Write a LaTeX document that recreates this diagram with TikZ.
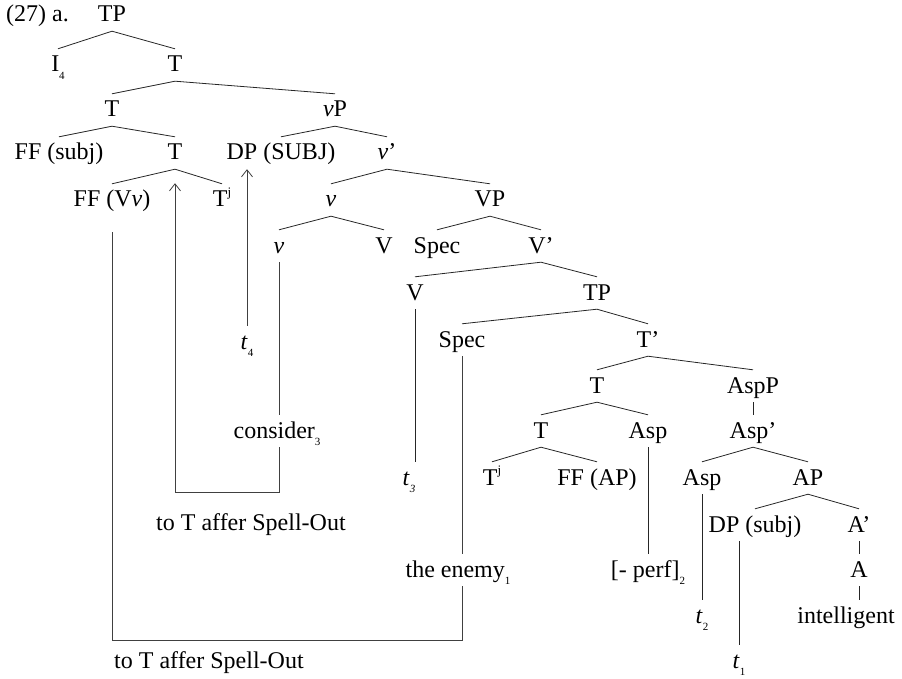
\documentclass[tikz,border=0pt]{standalone}
\usepackage{fontspec}
\setmainfont{Liberation Serif}
\usetikzlibrary{arrows.meta,calc}
% index and feature marks
\newcommand\lowsub[1]{\raisebox{-0.3em}{\fontsize{11}{11}\selectfont #1}}
\newcommand\highsup[1]{\raisebox{0.42em}{\fontsize{13}{13}\selectfont #1}}

\begin{document}
\begin{tikzpicture}[x=1pt,y=-1pt,
  lab/.style={anchor=base, inner xsep=1pt, inner ysep=6pt, text height=17pt,
              text depth=3pt, font=\fontsize{24}{28}\selectfont},
  branch/.style={draw=black!85, line width=0.8pt},
  move/.style={draw=black!75, line width=0.8pt},
  tip/.style={-{Straight Barb[length=7pt,width=11pt,line width=0.8pt]}}
]
\useasboundingbox (0,0) rectangle (902,679);

% labels, row by row
\node[lab, anchor=base west] (num) at (5,22) {(27) a.};
\node[lab] (tp0) at (112,22) {TP};
\node[lab] (i4) at (58,72) {I\lowsub{4}};
\node[lab] (t1) at (175,72) {T};
\node[lab] (t2) at (112,117) {T};
\node[lab] (vp) at (335,117) {\textit{v}P};
\node[lab] (ffsubj) at (59,160) {FF (subj)};
\node[lab] (t3) at (175,160) {T};
\node[lab] (dpsubj) at (281,160) {DP (SUBJ)};
\node[lab] (vbar) at (387,160) {\textit{v}'};
\node[lab] (ffvv) at (112,207) {FF (V\textit{v})};
\node[lab] (tj1) at (222,207) {T\highsup{j}};
\node[lab] (v1) at (331,207) {\textit{v}};
\node[lab] (vpp) at (490,207) {VP};
\node[lab] (v2) at (279,253) {\textit{v}};
\node[lab] (vv) at (384,253) {V};
\node[lab] (spec1) at (437,253) {Spec};
\node[lab] (vbar2) at (541,253) {V'};
\node[lab] (v3) at (415,300) {V};
\node[lab] (tp1) at (597,300) {TP};
\node[lab] (spec2) at (462,347) {Spec};
\node[lab] (tbar) at (648,347) {T'};
\node[lab] (tr4) at (247,349) {\textit{t}\lowsub{4}};
\node[lab] (t4) at (597,393) {T};
\node[lab] (aspp) at (753,393) {AspP};
\node[lab] (t5) at (541,438) {T};
\node[lab] (asp1) at (648,438) {Asp};
\node[lab] (aspbar) at (753,438) {Asp'};
\node[lab] (consider) at (277,438) {consider\lowsub{3}};
\node[lab] (tr3) at (409,485) {\textit{t}\lowsub{\textit{3}}};
\node[lab] (tj2) at (492,485) {T\highsup{j}};
\node[lab] (ffap) at (597,485) {FF (AP)};
\node[lab] (asp2) at (702,485) {Asp};
\node[lab] (ap) at (808,485) {AP};
\node[lab] (dpsubj2) at (755,532) {DP (subj)};
\node[lab] (abar) at (859,532) {A'};
\node[lab] (enemy) at (458,577) {the enemy\lowsub{1}};
\node[lab] (perf) at (648,577) {[- perf]\lowsub{2}};
\node[lab] (a) at (859,577) {A};
\node[lab] (tr2) at (702,623) {\textit{t}\lowsub{2}};
\node[lab] (intel) at (846,623) {intelligent};
\node[lab] (tr1) at (739,668) {\textit{t}\lowsub{1}};
\node[lab, anchor=base west] (spell1) at (155,530) {to T affer Spell-Out};
\node[lab, anchor=base west] (spell2) at (113,668) {to T affer Spell-Out};

% binary branching
\foreach \p/\c in {tp0/i4, tp0/t1, t1/t2, t1/vp, t2/ffsubj, t2/t3, vp/dpsubj,
    vp/vbar, t3/ffvv, t3/tj1, vbar/v1, vbar/vpp, v1/v2, v1/vv, vpp/spec1,
    vpp/vbar2, vbar2/v3, vbar2/tp1, tp1/spec2, tp1/tbar, tbar/t4, tbar/aspp,
    t4/t5, t4/asp1, t5/tj2, t5/ffap, aspbar/asp2, aspbar/ap, ap/dpsubj2, ap/abar}
  \draw[branch] (\p.south) -- (\c.north);

% unary and terminal lines
\foreach \p/\c in {aspp/aspbar, abar/a, a/intel, asp2/tr2, asp1/perf, v3/tr3}
  \draw[branch] (\p.south) -- (\p.south |- \c.north);
\draw[branch] (tr1.north |- dpsubj2.south) -- (tr1.north);
\draw[move] (spec2.south) -- (spec2.south |- enemy.north);
\draw[move] (v2.south) -- (v2.south |- consider.north);

% movement paths
\draw[move, tip] (tr4.north) -- (tr4.north |- dpsubj.south);
\draw[move, tip] (v2.south |- consider.south) -- ++(0,45) -| ($(t3.south)+(0,14)$);
\coordinate (low) at ($(spec2.south |- enemy.south)+(0,54)$);
\draw[move] ($(ffvv.south)+(0,16)$) |- (low) -- (spec2.south |- enemy.south);
\end{tikzpicture}
\end{document}
